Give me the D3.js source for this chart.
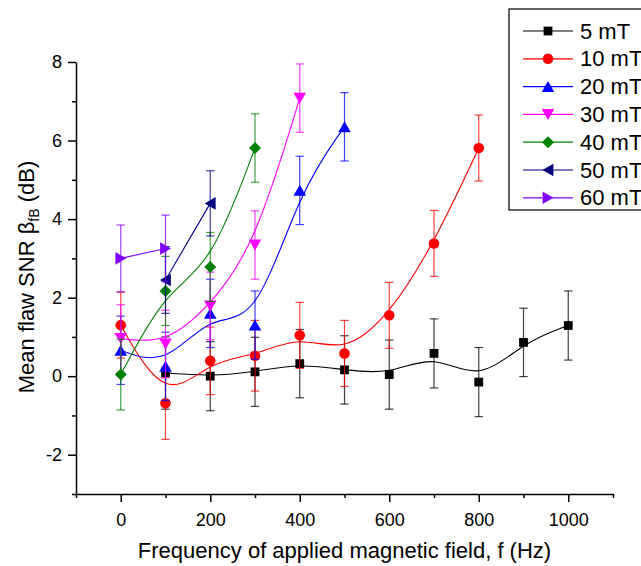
<!DOCTYPE html>
<html>
<head>
<meta charset="utf-8">
<script src="https://cdn.jsdelivr.net/npm/d3@7"></script>
<style>
  body { margin: 0; background: #fff; }
  svg { display: block; font-family: Arial, "Liberation Sans", sans-serif; }
  .eje path, .eje line { stroke: #000; stroke-width: 1.5; }
  .eje text { font-size: 18px; fill: #000; }
</style>
</head>
<body>
<svg id="graph" width="641" height="566"></svg>
<script>
// legend labels and colours
var names  = ["5 mT", "10 mT", "20 mT", "30 mT", "40 mT", "50 mT", "60 mT"];
var colors = ["#000000", "#ff0000", "#0000ff", "#ff00ff", "#008000", "#000080", "#8000ff"];
var shapes = ["square", "circle", "up", "down", "diamond", "left", "right"];

// frequencies (Hz), mean SNR (dB), error (dB)
var f5  = [100, 200, 300, 400, 500, 600, 700, 800, 900, 1000];
var s5  = [0.08, 0.0, 0.11, 0.32, 0.16, 0.04, 0.58, -0.15, 0.86, 1.29];
var e5  = [0.92, 0.88, 0.88, 0.87, 0.87, 0.88, 0.88, 0.88, 0.87, 0.88];

var f10 = [0, 100, 200, 300, 400, 500, 600, 700, 800];
var s10 = [1.3, -0.69, 0.39, 0.52, 1.04, 0.58, 1.55, 3.38, 5.81];
var e10 = [0.84, 0.92, 0.86, 0.9, 0.84, 0.84, 0.84, 0.84, 0.84];

var f20 = [0, 100, 200, 300, 400, 500];
var s20 = [0.66, 0.25, 1.6, 1.3, 4.73, 6.35];
var e20 = [0.87, 0.87, 0.87, 0.87, 0.87, 0.87];

var f30 = [0, 100, 200, 300, 400];
var s30 = [0.96, 0.82, 1.79, 3.34, 7.08];
var e30 = [0.86, 0.86, 0.86, 0.87, 0.87];

var f40 = [0, 100, 200, 300];
var s40 = [0.04, 2.17, 2.78, 5.81];
var e40 = [0.9, 0.88, 0.88, 0.87];

var f50 = [100, 200];
var s50 = [2.45, 4.4];
var e50 = [0.85, 0.83];

var f60 = [0, 100];
var s60 = [3.0, 3.25];
var e60 = [0.85, 0.85];

var xMajor = [0, 200, 400, 600, 800, 1000];
var xMinor = [-100, 100, 300, 500, 700, 900, 1100];
var yMajor = [-2, 0, 2, 4, 6, 8];
var yMinor = [-3, -1, 1, 3, 5, 7];

var freqs = [f5, f10, f20, f30, f40, f50, f60];
var snrs  = [s5, s10, s20, s30, s40, s50, s60];
var errs  = [e5, e10, e20, e30, e40, e50, e60];

var config = { left: 76, right: 613, top: 62, bottom: 494 };

var x = d3.scaleLinear().domain([-100, 1100]).range([config.left, config.right]);
var y = d3.scaleLinear().domain([-3, 8]).range([config.bottom, config.top]);

var svg = d3.select("#graph");

function markerPath(shape) {
    switch (shape) {
        case "square":  return "M-4.4,-4.4H4.4V4.4H-4.4Z";
        case "circle":  return "M5.3,0A5.3,5.3 0 1,1 -5.3,0A5.3,5.3 0 1,1 5.3,0Z";
        case "up":      return "M0,-5.6L6.3,5.4L-6.3,5.4Z";
        case "down":    return "M0,5.6L6.3,-5.4L-6.3,-5.4Z";
        case "diamond": return "M0,-6L6,0L0,6L-6,0Z";
        case "left":    return "M-5.6,0L5.4,-6.3L5.4,6.3Z";
        case "right":   return "M5.6,0L-5.4,-6.3L-5.4,6.3Z";
    }
}

// axes
svg.append("g")
    .attr("class", "eje")
    .attr("transform", "translate(0," + config.bottom + ")")
    .call(d3.axisBottom(x).tickValues(xMajor).tickSize(8).tickSizeOuter(0).tickPadding(11)
        .tickFormat(function(d) { return String(d); }));
svg.append("g")
    .attr("class", "eje")
    .attr("transform", "translate(0," + config.bottom + ")")
    .call(d3.axisBottom(x).tickValues(xMinor).tickSize(4).tickSizeOuter(0).tickFormat(""))
    .select(".domain").remove();
svg.append("g")
    .attr("class", "eje")
    .attr("transform", "translate(" + config.left + ",0)")
    .call(d3.axisLeft(y).tickValues(yMajor).tickSize(8).tickSizeOuter(0).tickPadding(6)
        .tickFormat(function(d) { return String(d); }));
svg.append("g")
    .attr("class", "eje")
    .attr("transform", "translate(" + config.left + ",0)")
    .call(d3.axisLeft(y).tickValues(yMinor).tickSize(4).tickSizeOuter(0).tickFormat(""))
    .select(".domain").remove();

// axis titles
svg.append("text")
    .attr("x", (config.left + config.right) / 2)
    .attr("y", 558)
    .attr("text-anchor", "middle")
    .style("font-size", "22px")
    .text("Frequency of applied magnetic field, f (Hz)");

var yt = svg.append("text")
    .attr("transform", "translate(34," + 277 + ") rotate(-90)")
    .attr("text-anchor", "middle")
    .style("font-size", "22px");
yt.append("tspan").text("Mean flaw SNR \u03b2");
yt.append("tspan").attr("dy", 5).style("font-size", "14px").text("fB");
yt.append("tspan").attr("dy", -5).text(" (dB)");

// series
var line = d3.line()
    .x(function(d) { return x(d.f); })
    .y(function(d) { return y(d.v); })
    .curve(d3.curveBasis);

names.forEach(function(name, i) {
    var datos = freqs[i].map(function(f, j) { return { f: f, v: snrs[i][j], e: errs[i][j] }; });
    var g = svg.append("g");
    g.append("path")
        .datum(datos)
        .attr("fill", "none")
        .attr("stroke", colors[i])
        .attr("stroke-width", 1.1)
        .attr("d", line);
    var eb = g.selectAll(".err")
        .data(datos)
        .enter().append("g")
        .attr("stroke", colors[i])
        .attr("stroke-opacity", 0.75)
        .attr("stroke-width", 1.2);
    eb.append("line")
        .attr("x1", function(d) { return x(d.f); })
        .attr("x2", function(d) { return x(d.f); })
        .attr("y1", function(d) { return y(d.v + d.e); })
        .attr("y2", function(d) { return y(d.v - d.e); });
    eb.append("line")
        .attr("x1", function(d) { return x(d.f) - 4.2; })
        .attr("x2", function(d) { return x(d.f) + 4.2; })
        .attr("y1", function(d) { return y(d.v + d.e); })
        .attr("y2", function(d) { return y(d.v + d.e); });
    eb.append("line")
        .attr("x1", function(d) { return x(d.f) - 4.2; })
        .attr("x2", function(d) { return x(d.f) + 4.2; })
        .attr("y1", function(d) { return y(d.v - d.e); })
        .attr("y2", function(d) { return y(d.v - d.e); });
    g.selectAll(".mk")
        .data(datos)
        .enter().append("path")
        .attr("d", markerPath(shapes[i]))
        .attr("fill", colors[i])
        .attr("transform", function(d) { return "translate(" + x(d.f) + "," + y(d.v) + ")"; });
});

// legend
var leg = svg.append("g").attr("transform", "translate(509,9)");
leg.append("rect")
    .attr("width", 160).attr("height", 201)
    .attr("fill", "#fff").attr("stroke", "#000").attr("stroke-width", 1.2);
names.forEach(function(name, i) {
    var ry = 22 + i * 27.8;
    leg.append("line")
        .attr("x1", 14).attr("x2", 64).attr("y1", ry).attr("y2", ry)
        .attr("stroke", colors[i]).attr("stroke-width", 1.2);
    leg.append("path")
        .attr("d", markerPath(shapes[i]))
        .attr("fill", colors[i])
        .attr("transform", "translate(39," + ry + ")");
    leg.append("text")
        .attr("x", 71).attr("y", ry + 7.5)
        .style("font-size", "22px")
        .text(name);
});
</script>
</body>
</html>
